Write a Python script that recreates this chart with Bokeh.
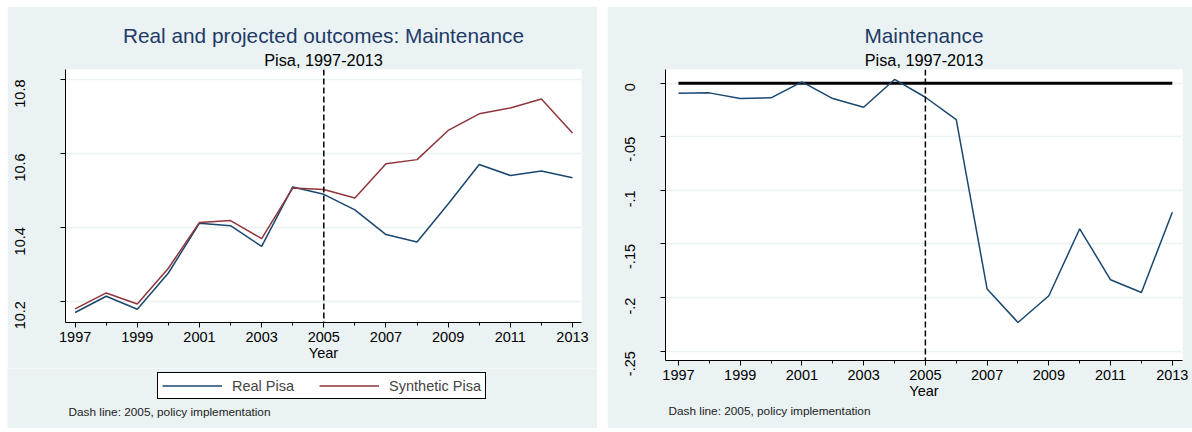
import math
from bokeh.plotting import figure
from bokeh.models import (FixedTicker, Span, Legend, LegendItem, Title, Range1d, Label)
from bokeh.layouts import row, column
from bokeh.embed import file_html
from bokeh.resources import INLINE

# ---------------- data ----------------
years = list(range(1997, 2014))
real_pisa = [10.169, 10.213, 10.178, 10.276, 10.411, 10.404, 10.348, 10.509, 10.489,
             10.447, 10.380, 10.360, 10.463, 10.570, 10.540, 10.552, 10.534]
synthetic_pisa = [10.179, 10.222, 10.192, 10.289, 10.413, 10.418, 10.369, 10.506, 10.502,
                  10.479, 10.572, 10.583, 10.662, 10.707, 10.723, 10.747, 10.655]
gap = [-0.0093, -0.0090, -0.0143, -0.0136, 0.0013, -0.0143, -0.0224, 0.0035, -0.0131,
       -0.0339, -0.1920, -0.2232, -0.1983, -0.1358, -0.1834, -0.1952, -0.1203]
policy_year = 2005
x_ticks = list(range(1997, 2014, 2))
x_minor = list(range(1998, 2013, 2))
left_y_ticks = [10.2, 10.4, 10.6, 10.8]
left_y_labels = ["10.2", "10.4", "10.6", "10.8"]
right_y_ticks = [0, -0.05, -0.1, -0.15, -0.2, -0.25]
right_y_labels = ["0", "-.05", "-.1", "-.15", "-.2", "-.25"]
series_names = ["Real Pisa", "Synthetic Pisa"]

title_left = "Real and projected outcomes: Maintenance"
title_right = "Maintenance"
subtitle = "Pisa, 1997-2013"
note = "Dash line: 2005, policy implementation"

# ---------------- style ----------------
FONT = "Liberation Sans"
BG = "#eaf2f3"
NAVY = "#1a476f"
MAROON = "#90353b"
TITLE_COLOR = "#1f3a66"
NOTE_COLOR = "#222222"


def style(p, yticks, ylabels, ystandoff):
    p.background_fill_color = "white"
    p.border_fill_color = BG
    p.outline_line_color = None
    p.xgrid.visible = False
    p.ygrid.ticker = FixedTicker(ticks=yticks)
    p.ygrid.grid_line_color = BG
    p.ygrid.grid_line_width = 1.5
    p.xaxis.ticker = FixedTicker(ticks=x_ticks, minor_ticks=x_minor)
    p.yaxis.ticker = FixedTicker(ticks=yticks, minor_ticks=[])
    p.yaxis.major_label_overrides = {t: l for t, l in zip(yticks, ylabels)}
    for ax in (p.xaxis[0], p.yaxis[0]):
        ax.axis_line_color = "black"
        ax.axis_line_width = 1
        ax.major_tick_line_color = "black"
        ax.minor_tick_line_color = "black"
        ax.major_tick_in = 0
        ax.major_tick_out = 5
        ax.minor_tick_in = 0
        ax.minor_tick_out = 3
        ax.major_label_text_font = FONT
        ax.major_label_text_font_size = "14.5px"
        ax.major_label_text_color = "black"
    p.xaxis.major_label_standoff = 4
    p.yaxis.major_label_standoff = ystandoff
    p.yaxis.major_label_orientation = math.pi / 2
    p.xaxis.axis_label = "Year"
    p.xaxis.axis_label_text_font = FONT
    p.xaxis.axis_label_text_font_size = "14.5px"
    p.xaxis.axis_label_text_font_style = "normal"
    p.xaxis.axis_label_text_color = "black"
    p.xaxis.axis_label_standoff = 0

    sub = Title(text=subtitle, align="center", text_font=FONT, text_font_size="16.3px",
                text_font_style="normal", text_color="black", standoff=1)
    p.add_layout(sub, "above")


def add_main_title(p, text):
    t = Title(text=text, align="center", text_font=FONT, text_font_size="20.8px",
              text_font_style="normal", text_color=TITLE_COLOR, standoff=4)
    p.add_layout(t, "above")


# ---------------- left chart ----------------
p1 = figure(width=590, height=362, output_backend="svg", toolbar_location=None,
            title=None, margin=(6, 0, 0, 7),
            x_range=Range1d(1996.69, 2013.29), y_range=Range1d(10.142, 10.827),
            min_border_left=58, min_border_right=16, min_border_top=63, min_border_bottom=46)
style(p1, left_y_ticks, left_y_labels, 40)
add_main_title(p1, title_left)

p1.line(years, real_pisa, line_color=NAVY, line_width=1.5)
p1.line(years, synthetic_pisa, line_color=MAROON, line_width=1.5)
p1.add_layout(Span(location=policy_year, dimension="height", line_color="black",
                   line_width=1.5, line_dash="6 3"))

# legend + note strip beneath the left chart (same panel background);
# its series lines lie outside this strip's view, only the legend keys show.
lg = figure(width=590, height=60, output_backend="svg", toolbar_location=None,
            title=None, margin=(0, 0, 4, 7), x_axis_type=None, y_axis_type=None,
            x_range=Range1d(0, 1), y_range=Range1d(0, 1),
            min_border_left=0, min_border_right=0, min_border_top=0, min_border_bottom=0)
lg.background_fill_color = BG
lg.border_fill_color = BG
lg.outline_line_color = None
lg.xgrid.visible = False
lg.ygrid.visible = False
k_real = lg.line(years, real_pisa, line_color=NAVY, line_width=1.5)
k_syn = lg.line(years, synthetic_pisa, line_color=MAROON, line_width=1.5)
legend = Legend(items=[LegendItem(label=series_names[0], renderers=[k_real]),
                       LegendItem(label=series_names[1], renderers=[k_syn])],
                orientation="horizontal", location=(150, 29),
                border_line_color="black", border_line_width=1, border_line_alpha=1,
                background_fill_color="white", background_fill_alpha=1,
                label_text_font=FONT, label_text_font_size="14.5px",
                glyph_width=60, glyph_height=17, label_height=17,
                label_standoff=10, spacing=25, padding=4, margin=0)
lg.add_layout(legend, "center")
lg.add_layout(Label(x=61, y=17, x_units="screen", y_units="screen", text=note,
                    text_font=FONT, text_font_size="11.8px", text_color=NOTE_COLOR,
                    text_baseline="middle", text_align="left"))

# ---------------- right chart ----------------
p2 = figure(width=585, height=422, output_backend="svg", toolbar_location=None,
            title=None, margin=(6, 0, 4, 10),
            x_range=Range1d(1996.58, 2013.33), y_range=Range1d(-0.2587, 0.0128),
            min_border_left=58, min_border_right=10, min_border_top=63, min_border_bottom=68)
style(p2, right_y_ticks, right_y_labels, 30)
add_main_title(p2, title_right)
p2.add_layout(Title(text=note, align="left", offset=3, text_font=FONT, text_font_size="11.8px",
                    text_font_style="normal", text_color=NOTE_COLOR, standoff=0), "below")

p2.line([years[0], years[-1]], [0, 0], line_color="black", line_width=3)
p2.line(years, gap, line_color=NAVY, line_width=1.5)
p2.add_layout(Span(location=policy_year, dimension="height", line_color="black",
                   line_width=1.5, line_dash="6 3"))

layout = row(column(column(p1), column(lg), spacing=0), column(p2))
open("out.html", "w").write(file_html(layout, INLINE))
